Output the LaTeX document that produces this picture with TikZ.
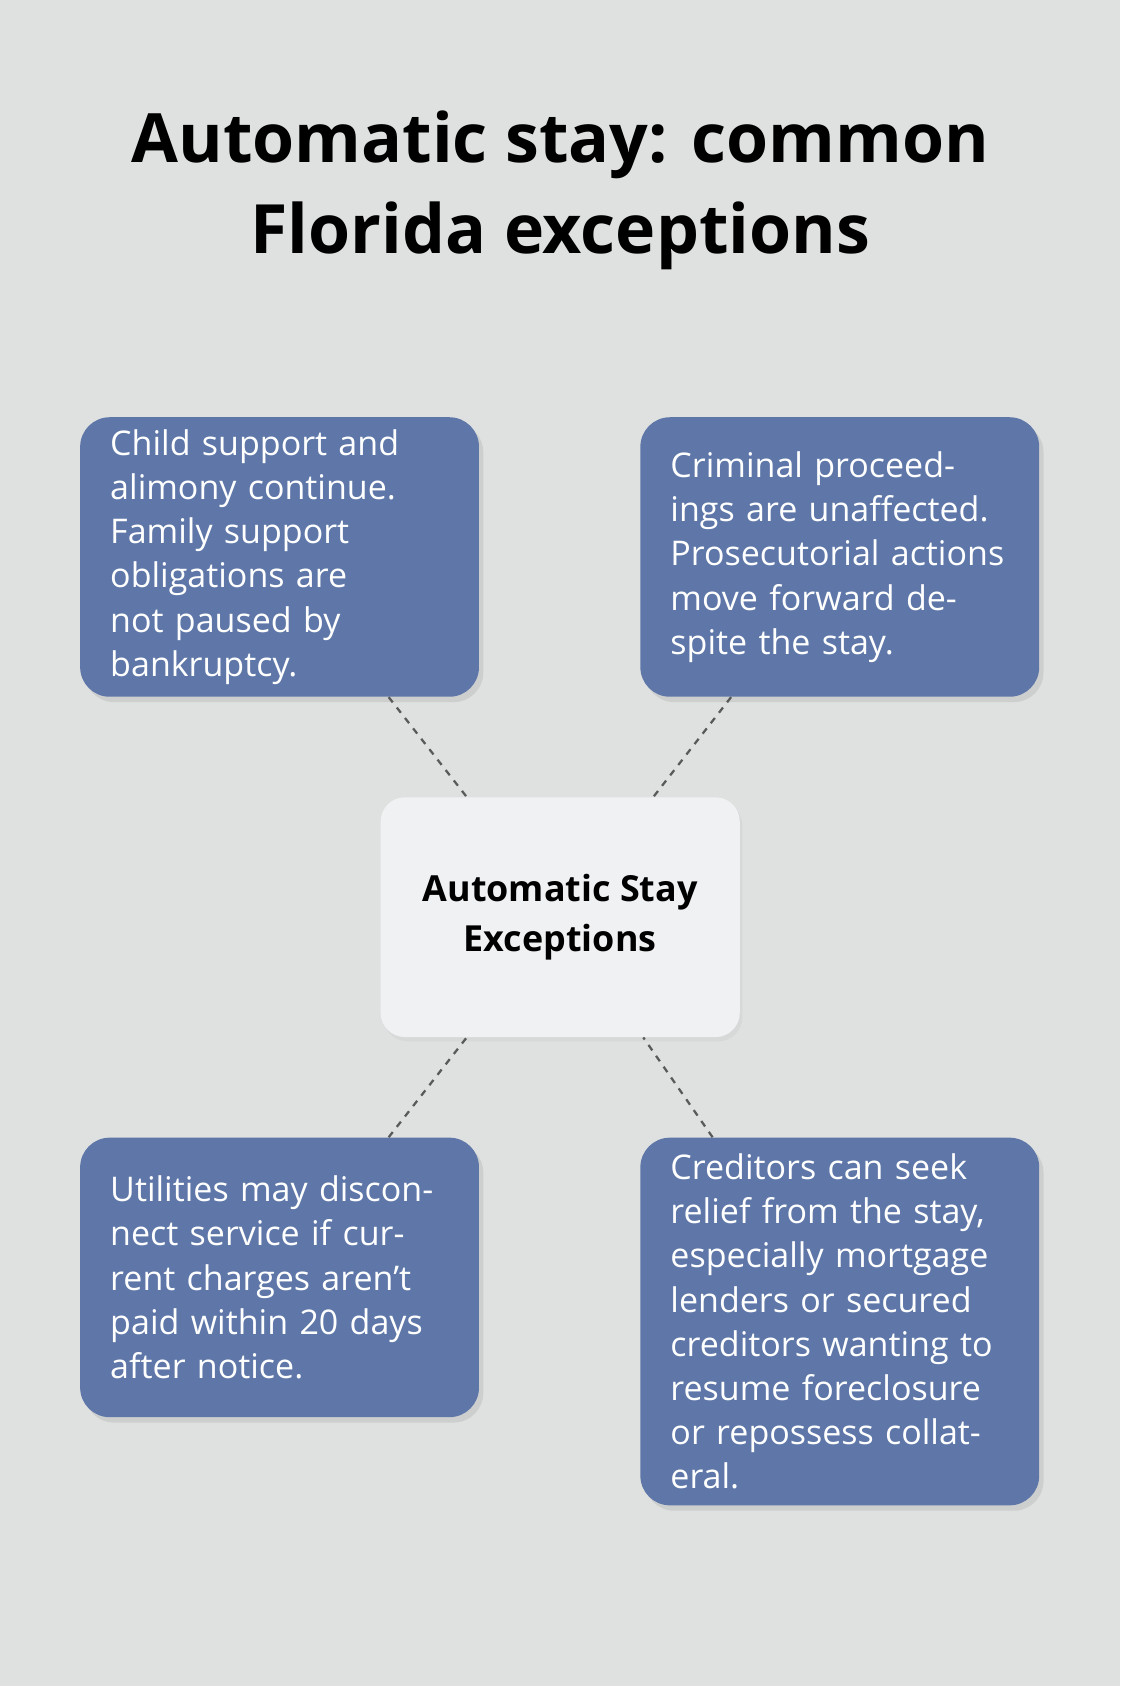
\documentclass[tikz,border=0pt]{standalone}
\usepackage{fontspec}
\setmainfont{Open Sans}
\usetikzlibrary{positioning,shadows}
\definecolor{bgc}{HTML}{DFE1E1}
\definecolor{boxc}{HTML}{5E77A8}
\definecolor{hubc}{HTML}{EFF1F3}
\definecolor{linec}{HTML}{5A5A5A}
\tikzset{every picture/.style={line join=round}}

\begin{document}
\begin{tikzpicture}[
    x=0.02cm,y=-0.02cm,
    ex/.style={
      rectangle,
      rounded corners=0.55cm,
      fill=boxc,
      text=white,
      minimum width=7.42cm,
      text width=6.3cm,
      align=left,
      font=\fontsize{18}{23.4}\selectfont,
      drop shadow={shadow xshift=0.08cm,shadow yshift=-0.1cm,opacity=0.18}
    },
    hub/.style={
      rectangle,
      rounded corners=0.45cm,
      fill=hubc,
      minimum width=6.68cm,
      minimum height=4.46cm,
      align=center,
      font=\bfseries\fontsize{19}{26}\selectfont,
      drop shadow={shadow xshift=0.05cm,shadow yshift=-0.08cm,opacity=0.08}
    },
    link/.style={linec,line width=1.2pt,dash pattern=on 3.5pt off 3.5pt}
  ]

  % Background and page frame.
  \fill[bgc] (0,0) rectangle (1042,1568);
  \useasboundingbox (0,0) rectangle (1042,1568);

  % Title.
  \node[font=\bfseries\fontsize{36}{48}\selectfont,align=center] (title)
    at (521,177) {Automatic stay: common\\Florida exceptions};

  % Central node.
  \node[hub] (c) at (521,853) {Automatic Stay\\Exceptions};

  % The four exceptions.
  \node[ex,minimum height=5.2cm] (tl) at (260,518)
    {Child support and alimony continue. Family support obligations are not paused by bankruptcy.};
  \node[ex,minimum height=5.2cm] (tr) at (781,518)
    {Criminal proceedings are unaffected. Prosecutorial actions move forward despite the stay.};
  \node[ex,minimum height=5.2cm] (bl) at (260,1188)
    {Utilities may disconnect service if current charges aren’t paid within 20 days after notice.};
  \node[ex,minimum height=6.84cm] (br) at (781,1229)
    {Creditors can seek relief from the stay, especially mortgage lenders or secured creditors wanting to resume foreclosure or repossess collateral.};

  % Dotted links to the hub.
  \foreach \n in {tl,tr,bl,br} {
    \draw[link] (\n) -- (c);
  }
\end{tikzpicture}
\end{document}
